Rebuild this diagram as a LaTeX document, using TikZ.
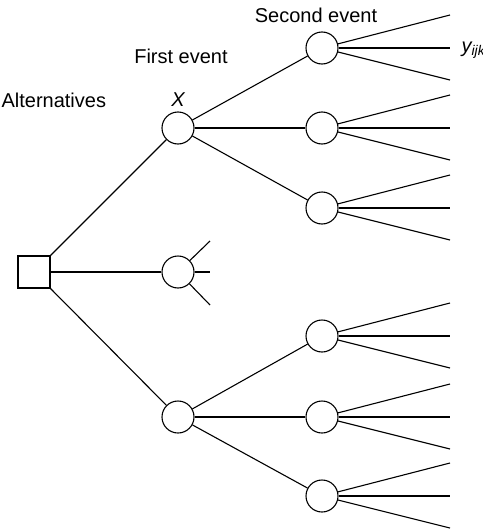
\documentclass[tikz,border=0pt]{standalone}
\usepackage{fontspec}
\setmainfont{Liberation Sans}
\begin{document}
\begin{tikzpicture}[x=1pt,y=-1pt,line width=1.1pt,
  chance/.style={circle,draw,minimum size=32pt,inner sep=0pt},
  decision/.style={rectangle,draw,minimum size=32pt,inner sep=0pt},
  lbl/.style={font=\fontsize{20}{24}\selectfont,inner sep=0pt}]
\useasboundingbox (0,0) rectangle (482,530);
% nodes
\node[decision] (d) at (34,272) {};
\node[chance] (a) at (178,128) {};
\node[chance] (b) at (178,272) {};
\node[chance] (c) at (178,417) {};
\node[chance] (a1) at (322,48) {};
\node[chance] (a2) at (322,128) {};
\node[chance] (a3) at (322,208) {};
\node[chance] (c1) at (322,336) {};
\node[chance] (c2) at (322,417) {};
\node[chance] (c3) at (322,496) {};
% first-level connectors
\draw (d.north east) -- (a);
\draw (d) -- (b);
\draw (d.south east) -- (c);
\draw (a) -- (a1); \draw (a) -- (a2); \draw (a) -- (a3);
\draw (c) -- (c1); \draw (c) -- (c2); \draw (c) -- (c3);
% stubs of middle node
\coordinate (b1) at (210,241);
\coordinate (b2) at (210,272);
\coordinate (b3) at (210,305);
\draw (b) -- (b1); \draw (b) -- (b2); \draw (b) -- (b3);
% leaves
\foreach \n/\y in {a1/48,a2/128,a3/208,c1/336,c2/417,c3/496}{
  \coordinate (\n u) at (450,\y-33);
  \coordinate (\n m) at (450,\y);
  \coordinate (\n d) at (450,\y+32);
  \draw (\n) -- (\n u);
  \draw (\n) -- (\n m);
  \draw (\n) -- (\n d);
}
% labels
\node[lbl] (t1) at (316,15) {Second event};
\node[lbl] (t2) at (181,56) {First event};
\node[lbl,font=\fontsize{20}{24}\selectfont\itshape] (tx) at (178,100) {X};
\node[lbl,anchor=west] (t3) at (1,100) {Alternatives};
\node[lbl,anchor=west,font=\fontsize{20}{24}\selectfont\itshape] (ty) at (461,50) {y\textsubscript{ijk}};
\end{tikzpicture}
\end{document}
